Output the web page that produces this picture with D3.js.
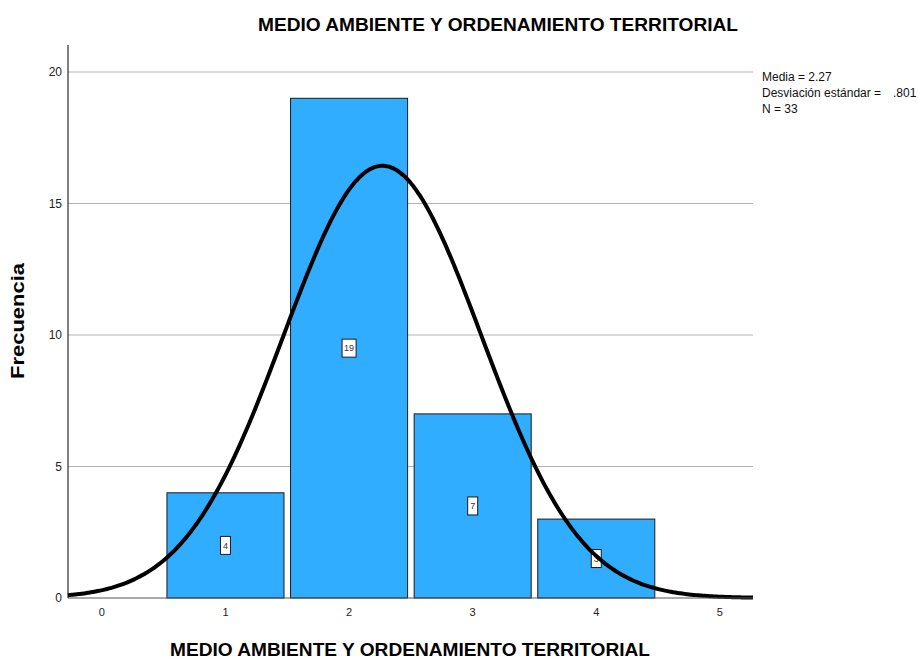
<!DOCTYPE html>
<html>
<head>
<meta charset="utf-8">
<script src="https://cdn.jsdelivr.net/npm/d3@7"></script>
<style>
  body { margin: 0; background: #fff; }
  text { font-family: "Liberation Sans", Arial, sans-serif; }
</style>
</head>
<body>
<div id="viz"></div>
<script>
const categories = [1, 2, 3, 4];
const counts = [4, 19, 7, 3];
const yTicks = [0, 5, 10, 15, 20];
const xTicks = [0, 1, 2, 3, 4, 5];
const statMean = 2.27;
const statSd = 0.801;
const statN = 33;
const chartTitle = "MEDIO AMBIENTE Y ORDENAMIENTO TERRITORIAL";
const legendLines = ["Media = 2.27", "Desviación estándar =", "N = 33"];

const W = 918, H = 661;
const plot = { left: 68, right: 753, top: 45, bottom: 598 };

const svg = d3.select("#viz").append("svg")
  .attr("width", W).attr("height", H);

// x: 0 at ~102px, 5 at ~720px
const x = d3.scaleLinear().domain([-0.274, 5.268]).range([plot.left, plot.right]);
const y = d3.scaleLinear().domain([0, 20]).range([plot.bottom, 72]);

// gridlines
svg.append("g")
  .selectAll("line")
  .data(yTicks.filter(d => d > 0))
  .join("line")
  .attr("x1", plot.left).attr("x2", plot.right)
  .attr("y1", d => y(d)).attr("y2", d => y(d))
  .attr("stroke", "#b4b4b4").attr("stroke-width", 1);

// bars
const barW = 0.947;
svg.append("g")
  .selectAll("rect")
  .data(categories.map((c, i) => ({ c, v: counts[i] })))
  .join("rect")
  .attr("x", d => x(d.c - barW / 2))
  .attr("y", d => y(d.v))
  .attr("width", d => x(d.c + barW / 2) - x(d.c - barW / 2))
  .attr("height", d => y(0) - y(d.v))
  .attr("fill", "#31adff")
  .attr("stroke", "#1a1a1a")
  .attr("stroke-width", 1);

// value labels in bars
const lab = svg.append("g")
  .selectAll("g")
  .data(categories.map((c, i) => ({ c, v: counts[i] })))
  .join("g")
  .attr("transform", d => `translate(${x(d.c)},${y(d.v / 2)})`);
lab.append("rect")
  .attr("x", d => d.v >= 10 ? -7 : -5).attr("y", -9)
  .attr("width", d => d.v >= 10 ? 14 : 10).attr("height", 18)
  .attr("fill", "#fff").attr("stroke", "#1a1a1a").attr("stroke-width", 1);
lab.append("text")
  .attr("text-anchor", "middle").attr("dy", "0.35em")
  .attr("font-size", 9).attr("fill", "#333")
  .text(d => d.v);

// normal curve
const pdfScale = statN * 1 / (statSd * Math.sqrt(2 * Math.PI));
const curvePts = d3.range(0, 301).map(i => {
  const xv = x.domain()[0] + (x.domain()[1] - x.domain()[0]) * i / 300;
  const z = (xv - statMean) / statSd;
  return [xv, pdfScale * Math.exp(-0.5 * z * z)];
});
svg.append("path")
  .datum(curvePts)
  .attr("fill", "none")
  .attr("stroke", "#000")
  .attr("stroke-width", 4)
  .attr("d", d3.line().x(d => x(d[0])).y(d => y(d[1])).curve(d3.curveBasis));

// axes
svg.append("line")
  .attr("x1", plot.left).attr("x2", plot.left)
  .attr("y1", plot.top).attr("y2", plot.bottom)
  .attr("stroke", "#000");
svg.append("line")
  .attr("x1", plot.left).attr("x2", plot.right)
  .attr("y1", plot.bottom).attr("y2", plot.bottom)
  .attr("stroke", "#555");

svg.append("g")
  .selectAll("text")
  .data(yTicks)
  .join("text")
  .attr("x", plot.left - 6).attr("y", d => y(d))
  .attr("dy", "0.35em").attr("text-anchor", "end")
  .attr("font-size", 12).attr("fill", "#222")
  .text(d => d);

svg.append("g")
  .selectAll("text")
  .data(xTicks)
  .join("text")
  .attr("x", d => x(d)).attr("y", plot.bottom + 18)
  .attr("text-anchor", "middle")
  .attr("font-size", 11).attr("fill", "#222")
  .text(d => d);

// titles
svg.append("text")
  .attr("x", 498).attr("y", 31)
  .attr("text-anchor", "middle")
  .attr("font-size", 18).attr("font-weight", "bold")
  .attr("textLength", 480).attr("lengthAdjust", "spacingAndGlyphs")
  .text(chartTitle);

svg.append("text")
  .attr("x", 410).attr("y", 656)
  .attr("text-anchor", "middle")
  .attr("font-size", 18).attr("font-weight", "bold")
  .attr("textLength", 480).attr("lengthAdjust", "spacingAndGlyphs")
  .text(chartTitle);

svg.append("text")
  .attr("transform", "translate(24,321) rotate(-90)")
  .attr("text-anchor", "middle")
  .attr("font-size", 19).attr("font-weight", "bold")
  .attr("textLength", 116).attr("lengthAdjust", "spacingAndGlyphs")
  .text("Frecuencia");

// legend
const leg = svg.append("g").attr("font-size", 12).attr("fill", "#111");
leg.selectAll("text")
  .data(legendLines)
  .join("text")
  .attr("x", 762).attr("y", (d, i) => 81 + i * 16)
  .attr("font-size", 12)
  .text(d => d);
leg.append("text")
  .attr("x", 893).attr("y", 97).attr("font-size", 12)
  .text(".801");
</script>
</body>
</html>
